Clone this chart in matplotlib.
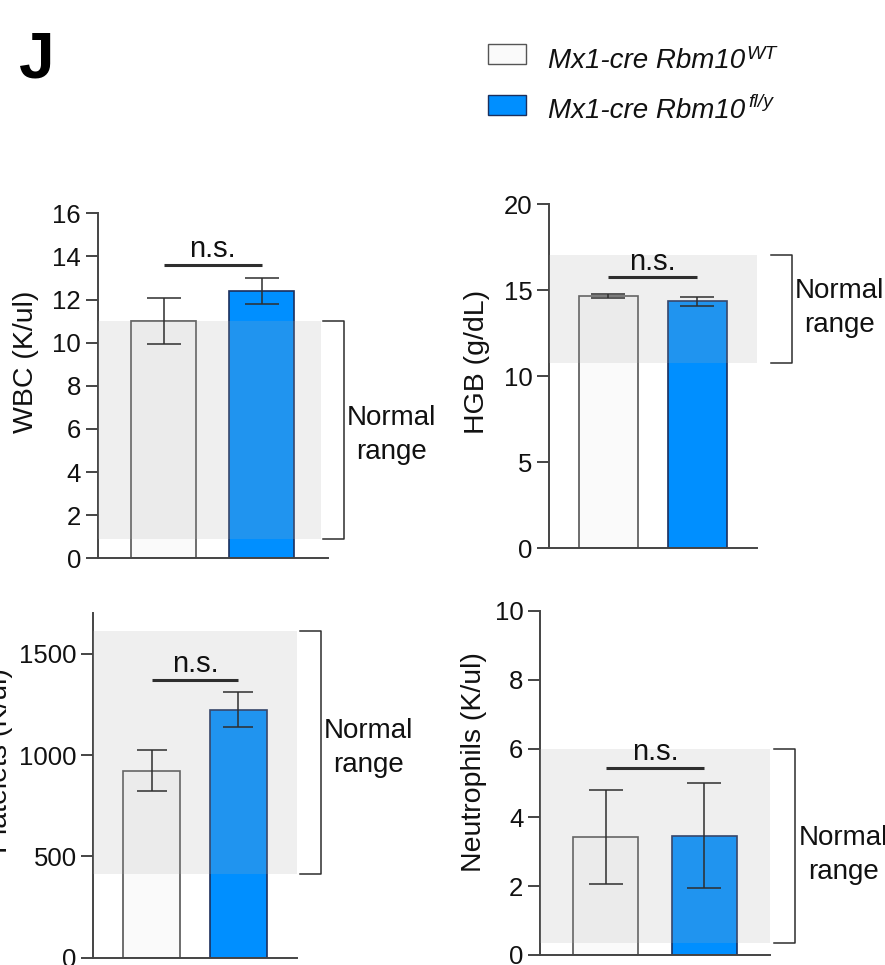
import numpy as np
import matplotlib
matplotlib.use("Agg")
import matplotlib.pyplot as plt
from matplotlib.patches import Rectangle
from matplotlib.transforms import offset_copy

plt.rcParams['font.family'] = ['Liberation Sans', 'DejaVu Sans']

# ---- data ----
ylabels = ['WBC (K/ul)', 'HGB (g/dL)', 'Platelets (K/ul)', 'Neutrophils (K/ul)']
groups = ['Mx1-cre Rbm10', 'Mx1-cre Rbm10']
group_sup = ['WT', 'fl/y']
wt_mean = [11.0, 14.65, 923, 3.42]
wt_err = [1.07, 0.12, 100, 1.37]
ko_mean = [12.4, 14.35, 1225, 3.47]
ko_err = [0.62, 0.28, 85, 1.53]
normal_low = [0.9, 10.8, 412, 0.35]
normal_high = [11.0, 17.05, 1615, 6.0]
ns_level = [13.6, 15.75, 1373, 5.45]
ymax = [16, 20, 1700, 10]
ytick_step = [2, 5, 500, 2]

W, H = 885, 965
fig = plt.figure(figsize=(W / 100, H / 100), dpi=100)

# axes boxes in pixels: x0, ytop, x1, ybottom
boxes = [(97.7, 213.3, 327.7, 558.3),
         (549, 204.3, 756.7, 548.3),
         (93.3, 613.3, 296.7, 957.7),
         (540, 611, 770, 955)]
band_right = [0.971, 1.0, 1.0, 1.0]
bracket_dx = [16, 35, 24, 25]      # px right of axis end
text_dy = [-5, 1, 4, -9]           # px shift of "Normal range" (up = +)
# y label: right (baseline side) edge x, centre y, in px
label_px = [(39, 362), (490, 362), (13, 761), (487, 762)]
caps = [12, 12, 10.5, 12]

wt_color = '#FAFAFA'
ko_color = '#008FFF'
ink = '#2e2e2e'

for i in range(4):
    x0, yt, x1, yb = boxes[i]
    wpx, hpx = x1 - x0, yb - yt
    ax = fig.add_axes([x0 / W, 1 - yb / H, wpx / W, hpx / H])
    ax.set_xlim(-0.67, 1.67)
    ax.set_ylim(0, ymax[i])

    ax.bar([0], [wt_mean[i]], width=0.66, color=wt_color, edgecolor='#555555',
           linewidth=1.2, zorder=2)
    ax.bar([1], [ko_mean[i]], width=0.66, color=ko_color, edgecolor='#1c2f5c',
           linewidth=1.2, zorder=2)
    ax.errorbar([0, 1], [wt_mean[i], ko_mean[i]], yerr=[wt_err[i], ko_err[i]],
                fmt='none', ecolor=ink, elinewidth=1.1, capsize=caps[i],
                capthick=1.1, zorder=4)

    # normal range shading, drawn over the bars
    ax.axhspan(normal_low[i], normal_high[i], xmin=0, xmax=band_right[i],
               color='#acacac', alpha=0.19, lw=0, zorder=3)

    # n.s. bar
    ax.plot([0, 1], [ns_level[i], ns_level[i]], color=ink, lw=2.2,
            solid_capstyle='butt', zorder=5)
    ax.annotate('n.s.', (0.5, ns_level[i]), xytext=(0, 5.5),
                textcoords='offset points', ha='center', va='baseline',
                fontsize=21, color='#111111')

    # bracket for normal range
    bx = 1 + bracket_dx[i] / wpx
    tk = 21 / wpx
    trans = ax.get_yaxis_transform()
    ax.plot([bx - tk, bx, bx, bx - tk],
            [normal_high[i], normal_high[i], normal_low[i], normal_low[i]],
            color=ink, lw=1.1, transform=trans, clip_on=False)
    ymid = (normal_high[i] + normal_low[i]) / 2
    ttrans = offset_copy(trans, fig=fig, x=0, y=text_dy[i], units='dots')
    ax.text(bx + 48 / wpx, ymid, 'Normal\nrange', transform=ttrans,
            ha='center', va='center', fontsize=20, linespacing=1.4,
            color='#111111', clip_on=False)

    # axes styling
    for s in ['top', 'right']:
        ax.spines[s].set_visible(False)
    for s in ['left', 'bottom']:
        ax.spines[s].set_color('#444444')
        ax.spines[s].set_linewidth(1.4)
    ax.set_xticks([])
    ax.set_yticks(np.arange(0, ymax[i] + 1e-9, ytick_step[i]))
    if ymax[i] % ytick_step[i] != 0:
        ax.set_yticks(np.arange(0, ymax[i], ytick_step[i]))
    ax.tick_params(axis='y', length=9, width=1.4, color='#444444',
                   labelsize=18.5, pad=3, labelcolor='#111111')
    ax.set_ylabel(ylabels[i], fontsize=20.5, color='#111111')
    lx, ly = label_px[i]
    ax.yaxis.set_label_coords((lx - x0) / wpx, (yb - ly) / hpx)

# panel letter
fig.text(19 / W, 1 - 77 / H, 'J', fontsize=46, fontweight='bold',
         ha='left', va='baseline')

# legend
renderer = fig.canvas.get_renderer()
leg_rows = [(44, 64.3, 67.7, 9, wt_color, '#555555'),
            (95, 115, 118.3, 11.5, ko_color, '#1c2f5c')]
for k, (ry0, ry1, base, sup_up, fc, ec) in enumerate(leg_rows):
    fig.add_artist(Rectangle((488 / W, 1 - ry1 / H), 38 / W, (ry1 - ry0) / H,
                             transform=fig.transFigure, facecolor=fc,
                             edgecolor=ec, lw=1.0))
    t = fig.text(548 / W, 1 - base / H, groups[k], fontsize=20,
                 style='italic', ha='left', va='baseline', color='#111111')
    bb = t.get_window_extent(renderer)
    fig.text(bb.x1 / W + (1.5 + 2 * k) / W, 1 - (base - sup_up) / H,
             group_sup[k], fontsize=14, style='italic', ha='left',
             va='baseline', color='#111111')

fig.savefig('out.png', dpi=100)
